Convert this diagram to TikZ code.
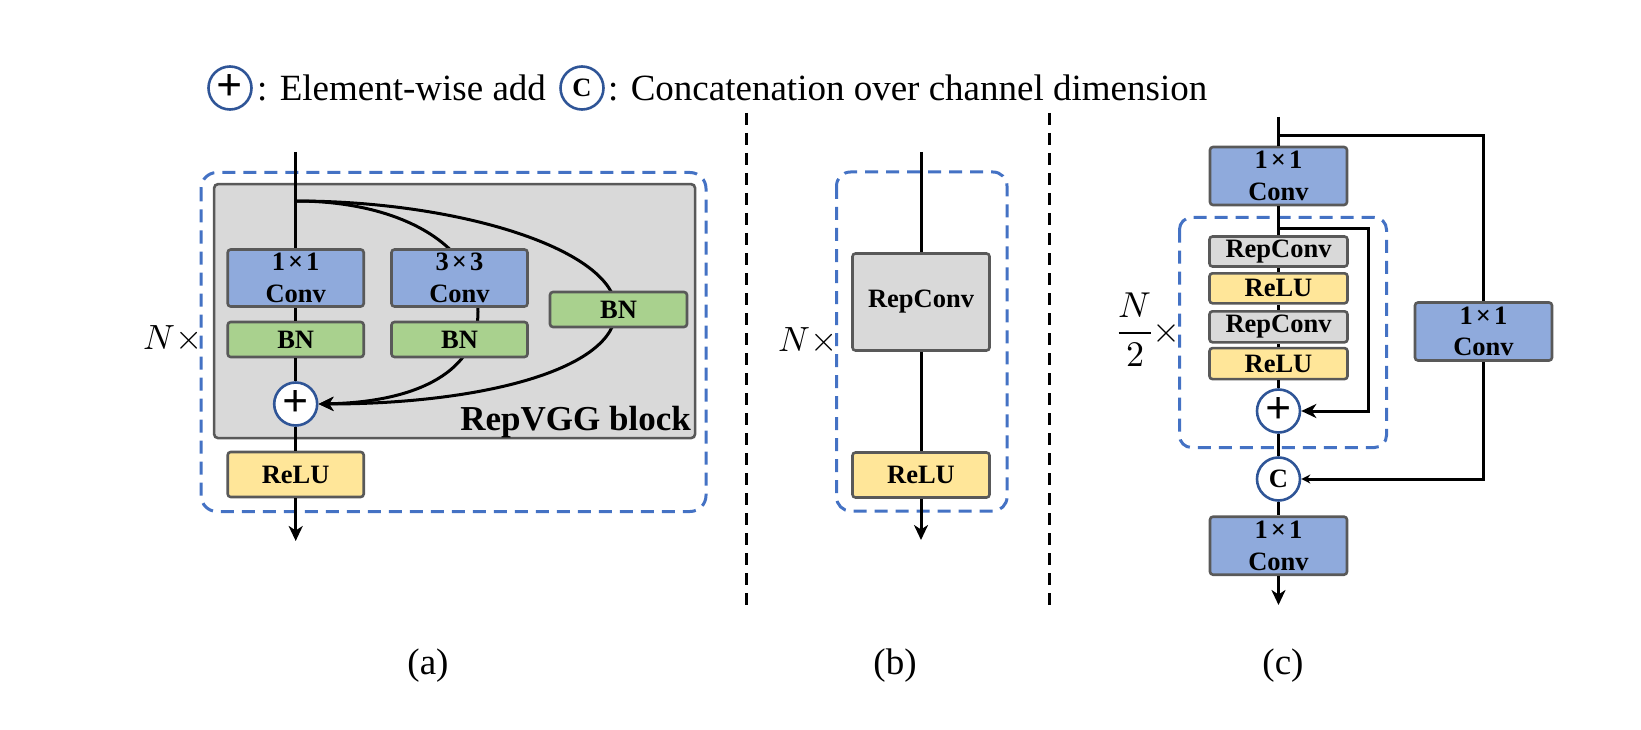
\documentclass[tikz,border=0pt]{standalone}
\usepackage{fontspec}
\usepackage{unicode-math}
\setmainfont{Liberation Serif}
\setmathfont{Latin Modern Math}
\usetikzlibrary{arrows.meta}
\definecolor{cblue}{HTML}{8FAADC}
\definecolor{cgreen}{HTML}{A9D18E}
\definecolor{cyellow}{HTML}{FFE699}
\definecolor{cgray}{HTML}{D9D9D9}
\definecolor{cborder}{HTML}{595959}
\definecolor{cdash}{HTML}{4472C4}
\definecolor{ccircle}{HTML}{2F5597}
\pgfdeclarelayer{back}
\pgfdeclarelayer{mid}
\pgfsetlayers{back,mid,main}
\newcommand\bxfont{\fontsize{26.5}{31.5}\selectfont\bfseries}
\newcommand\plusfont{\fontsize{46}{46}\selectfont\bfseries}
\newcommand\onebyone{1\kern3pt×\kern3pt1}
\begin{document}
\begin{tikzpicture}[x=1pt,y=-1pt,
  box/.style={draw=cborder, line width=2.6pt, rounded corners=3pt, inner sep=0pt, align=center, font=\bxfont},
  circ/.style={circle, draw=ccircle, line width=2.6pt, fill=white, minimum size=43pt, inner sep=0pt},
  conn/.style={line width=3pt, draw=black},
  arr/.style={conn, -{Stealth[length=15pt,width=14pt,inset=4.5pt]}},
  arrs/.style={conn, -{Stealth[length=9pt,width=9pt,inset=3pt]}},
  grp/.style={draw=cdash, line width=3pt, dash pattern=on 13pt off 8pt},
  sep/.style={line width=3pt, draw=black, dash pattern=on 12pt off 8pt},
  lbl/.style={font=\fontsize{37}{44}\selectfont, inner sep=0pt}
]
\useasboundingbox (0,0) rectangle (1641,730);

% ---------- legend ----------
\node[circ] (lplus) at (230,88) {\plusfont +};
\node[lbl, anchor=base west] (ltxt1) at (257,101) {: Element-wise add};
\node[circ] (lcat) at (582,88) {\bxfont C};
\node[lbl, anchor=base west] (ltxt2) at (608,101) {: Concatenation over channel dimension};

% ---------- separators ----------
\coordinate (s1a) at (746.5,113); \coordinate (s1b) at (746.5,607);
\coordinate (s2a) at (1049.5,113); \coordinate (s2b) at (1049.5,607);
\draw[sep] (s1a) -- (s1b);
\draw[sep] (s2a) -- (s2b);

% ---------- panel (a) ----------
\begin{pgfonlayer}{back}
\draw[grp, rounded corners=16pt] (201,172.5) rectangle (706,511.5);
\node[box, fill=cgray, minimum width=481pt, minimum height=254pt, rounded corners=4pt] (gblock) at (454.6,311.1) {};
\end{pgfonlayer}
\node[font=\fontsize{35}{40}\selectfont\bfseries, anchor=base east, inner sep=0pt] (rvgg) at (691,430) {RepVGG block};

\node[box, fill=cblue, minimum width=136pt, minimum height=57pt] (ac1) at (295.7,278) {\onebyone\\Conv};
\node[box, fill=cgreen, minimum width=136pt, minimum height=35pt] (abn1) at (295.7,339.5) {BN};
\node[box, fill=cblue, minimum width=136pt, minimum height=57pt] (ac3) at (459.5,278) {3\kern3pt×\kern3pt3\\Conv};
\node[box, fill=cgreen, minimum width=136pt, minimum height=35pt] (abn3) at (459.5,339.5) {BN};
\node[box, fill=cgreen, minimum width=137pt, minimum height=35pt] (abnr) at (618.5,309.5) {BN};
\node[circ] (aplus) at (295.7,404) {\plusfont +};
\node[box, fill=cyellow, minimum width=136pt, minimum height=45pt] (arelu) at (295.7,474.5) {ReLU};
\node[font=\fontsize{35}{40}\selectfont, inner sep=0pt] (aN) at (173,338) {$N\times$};

\coordinate (a0) at (295.7,152);
\coordinate (abr) at (295.7,201);
\coordinate (aend) at (295.7,541);
\draw[conn] (a0) -- (ac1);
\draw[conn] (ac1) -- (abn1);
\draw[conn] (abn1) -- (aplus);
\draw[conn] (aplus) -- (arelu);
\draw[arr] (arelu) -- (aend);
\begin{pgfonlayer}{mid}
\draw[arr] (abr) .. controls (400,201) and (478,245) .. (478,312) .. controls (478,370) and (420,402) .. (aplus.east);
\draw[arr] (abr) .. controls (460,201) and (616,250) .. (616,310) .. controls (616,370) and (480,404) .. (aplus.east);
\end{pgfonlayer}

% ---------- panel (b) ----------
\draw[grp, rounded corners=14pt] (836.5,172) rectangle (1007,511);
\node[box, fill=cgray, minimum width=137pt, minimum height=97pt] (brep) at (921,302) {RepConv};
\node[box, fill=cyellow, minimum width=137pt, minimum height=45pt] (brelu) at (921,475) {ReLU};
\node[font=\fontsize{35}{40}\selectfont, inner sep=0pt] (bN) at (808,340) {$N\times$};
\coordinate (b0) at (921,152);
\coordinate (bend) at (921,540);
\draw[conn] (b0) -- (brep);
\draw[conn] (brep) -- (brelu);
\draw[arr] (brelu) -- (bend);

% ---------- panel (c) ----------
\draw[grp, rounded corners=12pt] (1179.5,217.5) rectangle (1386.5,447.5);
\node[box, fill=cblue, minimum width=137pt, minimum height=58pt] (ctop) at (1278.5,176) {\onebyone\\Conv};
\node[box, fill=cgray, minimum width=138pt, minimum height=30pt] (crc1) at (1278.5,251.5) {RepConv};
\node[box, fill=cyellow, minimum width=138pt, minimum height=30pt] (crl1) at (1278.5,288.3) {ReLU};
\node[box, fill=cgray, minimum width=138pt, minimum height=31pt] (crc2) at (1278.5,326.8) {RepConv};
\node[box, fill=cyellow, minimum width=138pt, minimum height=31pt] (crl2) at (1278.5,363.6) {ReLU};
\node[circ] (cplus) at (1278.5,411) {\plusfont +};
\node[circ] (ccat) at (1278.5,479) {\bxfont C};
\node[box, fill=cblue, minimum width=137pt, minimum height=58pt] (cbot) at (1278.5,545.7) {\onebyone\\Conv};
\node[box, fill=cblue, minimum width=137pt, minimum height=58pt] (cright) at (1483.5,331.5) {\onebyone\\Conv};
\node[font=\fontsize{36}{42}\selectfont, inner sep=0pt] (cN) at (1149,330) {$\dfrac{N}{2}\times$};

\coordinate (c0) at (1278.5,117);
\coordinate (cbr) at (1278.5,135.7);
\coordinate (cbrR) at (1483.5,135.7);
\coordinate (cin) at (1278.5,228.3);
\coordinate (cinR) at (1368.3,228.3);
\coordinate (cend) at (1278.5,605);
\draw[conn] (c0) -- (ctop);
\draw[conn] (cbr) -- (cbrR) -- (cright);
\draw[arrs] (cright) |- (ccat.east);
\draw[conn] (ctop) -- (crc1);
\draw[conn] (crc1) -- (crl1);
\draw[conn] (crl1) -- (crc2);
\draw[conn] (crc2) -- (crl2);
\draw[conn] (crl2) -- (cplus);
\draw[arr] (cin) -- (cinR) |- (cplus.east);
\draw[conn] (cplus) -- (ccat);
\draw[conn] (ccat) -- (cbot);
\draw[arr] (cbot) -- (cend);

% ---------- captions ----------
\node[lbl] (capa) at (428,666) {(a)};
\node[lbl] (capb) at (895,666) {(b)};
\node[lbl] (capc) at (1283,666) {(c)};
\end{tikzpicture}
\end{document}
